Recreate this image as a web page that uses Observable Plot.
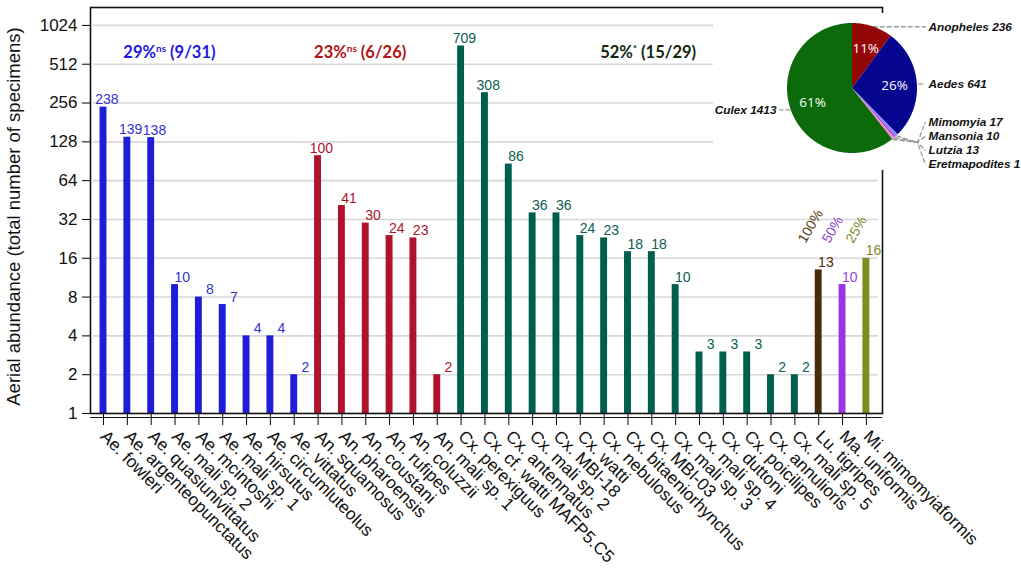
<!DOCTYPE html>
<html><head><meta charset="utf-8">
<script src="https://cdn.jsdelivr.net/npm/d3@7"></script>
<script src="https://cdn.jsdelivr.net/npm/@observablehq/plot@0.6"></script>
<style>
body{margin:0;background:#fff;}
#wrap{position:relative;width:1021px;height:570px;overflow:hidden;background:#fff}
#pie{position:absolute;left:713px;top:13px;width:308px;height:157px;background:#fff}
#main g[aria-label^="y-axis"] text{font-size:17px;fill:#111}
#main g[aria-label^="x-axis"] text{font-size:17.3px;fill:#111}
</style></head><body>
<div id="wrap"><div id="main"></div><div id="pie"></div></div>
<script>
// ---------- data ----------
const species = [
  "Ae. fowleri","Ae. argenteopunctatus","Ae. quasiunivittatus","Ae. mali sp. 2","Ae. mcintoshi",
  "Ae. mali sp. 1","Ae. hirsutus","Ae. circumluteolus","Ae. vittatus",
  "An. squamosus","An. pharoensis","An. coustani","An. rufipes","An. coluzzii","An. mali sp. 1",
  "Cx. perexiguus","Cx. cf. watti MAFP5.C5","Cx. antennatus","Cx. mali sp. 2","Cx. MBI-18","Cx. watti",
  "Cx. nebulosus","Cx. bitaeniorhynchus","Cx. MBI-03","Cx. mali sp. 3","Cx. mali sp. 4","Cx. duttoni",
  "Cx. poicilipes","Cx. annulioris","Cx. mali sp. 5",
  "Lu. tigripes","Ma. uniformis","Mi. mimomyiaformis"
];
const counts = [238,139,138,10,8,7,4,4,2, 100,41,30,24,23,2,
  709,308,86,36,36,24,23,18,18,10,3,3,3,2,2, 13,10,16];
const yTicks = [1,2,4,8,16,32,64,128,256,512,1024];

const noteSpecies = ["Ae. argenteopunctatus","An. squamosus","Cx. nebulosus"];
const noteMain = ["29%","23%","52%"];
const noteSup = ["ns","ns","*"];
const noteRest = [" (9/31)"," (6/26)"," (15/29)"];

const shareSpecies = ["Lu. tigripes","Ma. uniformis","Mi. mimomyiaformis"];
const shareLabels = ["100%","50%","25%"];

const pieGenera = ["Anopheles","Aedes","Mimomyia","Mansonia","Lutzia","Eretmapodites","Culex"];
const pieCounts = [236,641,17,10,13,1,1413];
const piePercents = ["11%","26%","","","","","61%"];

const yLabel = "Aerial abundance (total number of specimens)";

// ---------- styles ----------
const barColor = {Ae:"#1e1ed8", An:"#b0122c", Cx:"#005e4e", Lu:"#4a2c0c", Ma:"#9c34e4", Mi:"#7d8b1f"};
const valColor = {Ae:"#3434cc", An:"#a8162c", Cx:"#0b5e50", Lu:"#4a2c0c", Ma:"#9c40e0", Mi:"#7d8b1f"};
const noteColor = ["#1a1ae0","#b01414","#10280f"];
const shareColor = ["#5a3a10","#8f44d0","#7d8b2a"];
const pieColor = {Anopheles:"#950606", Aedes:"#05058f", Mimomyia:"#8a8aff", Mansonia:"#a040e0",
  Lutzia:"#ff7fbf", Eretmapodites:"#ffffff", Culex:"#0b6b0b"};

const rows = species.map((s, i) => ({species: s, count: counts[i], genus: s.slice(0, 2)}));
const notes = noteSpecies.map((s, i) => ({species: s, i}));
const shares = shareSpecies.map((s, i) => ({species: s, text: shareLabels[i], i}));

const main = Plot.plot({
  width: 1021, height: 570,
  marginTop: 7, marginBottom: 157, marginLeft: 90, marginRight: 139,
  style: {fontFamily: "Liberation Sans, Arial, sans-serif", background: "#fff"},
  color: {type: "identity"},
  x: {domain: species, paddingInner: 0.71, paddingOuter: 0.466, align: 0.43, round: false,
      label: null, tickRotate: 45, tickSize: 12, tickPadding: 8},
  y: {type: "log", base: 2, domain: [1, 1410], ticks: yTicks, tickFormat: d => String(d),
      label: null, tickSize: 8, tickPadding: 5},
  marks: [
    Plot.ruleY(yTicks.filter(d => d > 1), {stroke: "#d8d8d8", strokeWidth: 1.6, insetLeft: 3, insetRight: 4}),
    Plot.barY(rows, {x: "species", y1: 1, y2: "count", fill: d => barColor[d.genus]}),
    Plot.text(rows, {x: "species", y: "count", text: d => String(d.count), fill: d => valColor[d.genus],
      textAnchor: "end", lineAnchor: "bottom", dx: 15, dy: -3, fontSize: 14}),
    Plot.text(notes, {x: "species", y: () => 632, text: d => noteMain[d.i] + noteSup[d.i] + noteRest[d.i],
      fill: d => noteColor[d.i], textAnchor: "start", dx: -4, fontSize: 16.5, fontWeight: "bold",
      fontFamily: "Lato, Open Sans, sans-serif"}),
    Plot.text(shares, {x: "species", y: () => 21.5, text: "text", fill: d => shareColor[d.i],
      rotate: -60, textAnchor: "start", dx: -17, fontSize: 14}),
    Plot.text([yLabel], {text: d => d, frameAnchor: "left", rotate: -90, dx: -76, dy: 6,
      textAnchor: "middle", fontSize: 18.5, fill: "#111"}),
    Plot.frame({stroke: "#111", strokeWidth: 1.6}),
    Plot.ruleY([1], {stroke: "#111", strokeWidth: 1.2, dy: 4})
  ]
});
document.getElementById("main").appendChild(main);

// superscripts in group notes
main.querySelectorAll("text").forEach(t => {
  noteMain.forEach((m, i) => {
    if (t.textContent === m + noteSup[i] + noteRest[i]) {
      t.textContent = "";
      const ns = "http://www.w3.org/2000/svg";
      const a = document.createElementNS(ns, "tspan"); a.textContent = m;
      const b = document.createElementNS(ns, "tspan"); b.textContent = noteSup[i];
      b.setAttribute("font-size", "10"); b.setAttribute("dy", "-6");
      const c = document.createElementNS(ns, "tspan"); c.textContent = noteRest[i];
      c.setAttribute("dy", "6");
      t.append(a, b, c);
    }
  });
});

// ---------- pie ----------
const pieRows = pieGenera.map((g, i) => ({genus: g, count: pieCounts[i], pct: piePercents[i]}));
const total = d3.sum(pieCounts);
const arcs = d3.pie().sort(null).value(d => d.count)(pieRows);
const deg = Math.PI / 180;
const piePts = arcs.flatMap(a => {
  const n = Math.max(2, Math.ceil((a.endAngle - a.startAngle) / deg) + 1);
  return d3.range(n).map(k => {
    const t = a.startAngle + (a.endAngle - a.startAngle) * k / (n - 1);
    return {genus: a.data.genus, x: Math.sin(t), y: Math.cos(t)};
  });
});
const mid = a => (a.startAngle + a.endAngle) / 2;
const pctLabels = arcs.filter(a => a.data.pct).map(a => ({text: a.data.pct, x: 0.65 * Math.sin(mid(a)), y: 0.65 * Math.cos(mid(a))}));

const small = arcs.filter(a => a.data.count / total < 0.02);
const leaders = [], tags = [];
arcs.forEach(a => {
  const m = mid(a), ex = Math.sin(m), ey = Math.cos(m);
  const si = small.indexOf(a);
  const tag = a.data.genus + " " + a.data.count;
  if (si >= 0) {
    const ly = -0.52 - si * 0.215;
    leaders.push({g: tag, x: ex, y: ey}, {g: tag, x: 1.0, y: -0.83}, {g: tag, x: 1.12, y: ly});
    tags.push({text: tag, x: 1.17, y: ly, anchor: "start"});
  } else {
    const side = ex >= 0 ? 1 : -1;
    leaders.push({g: tag, x: ex * 1.02, y: ey}, {g: tag, x: side * 1.12, y: ey});
    tags.push({text: tag, x: side * 1.17, y: ey, anchor: side > 0 ? "start" : "end"});
  }
});

const R = 65, cx = 139, cy = 75, W = 308, H = 157;
const pie = Plot.plot({
  width: W, height: H, margin: 0,
  style: {fontFamily: "Liberation Sans, Arial, sans-serif", background: "transparent"},
  color: {type: "identity"},
  x: {domain: [-cx / R, (W - cx) / R], axis: null},
  y: {domain: [-(H - cy) / R, cy / R], axis: null},
  marks: [
    Plot.line(leaders, {x: "x", y: "y", z: "g", stroke: "#9a9a9a", strokeWidth: 1.3, strokeDasharray: "4,3"}),
    Plot.area(piePts, {x1: 0, y1: 0, x2: "x", y2: "y", z: "genus", fill: d => pieColor[d.genus], curve: "linear"}),
    Plot.text(pctLabels, {x: "x", y: "y", text: "text", fill: "white", fontSize: 13.5, fontFamily: "Open Sans, sans-serif"}),
    Plot.text(tags.filter(d => d.anchor === "start"), {x: "x", y: "y", text: "text", textAnchor: "start",
      fontSize: 11.8, fontWeight: "bold", fontStyle: "italic", fill: "#111"}),
    Plot.text(tags.filter(d => d.anchor === "end"), {x: "x", y: "y", text: "text", textAnchor: "end",
      fontSize: 11.8, fontWeight: "bold", fontStyle: "italic", fill: "#111"})
  ]
});
document.getElementById("pie").appendChild(pie);
</script>
</body></html>
